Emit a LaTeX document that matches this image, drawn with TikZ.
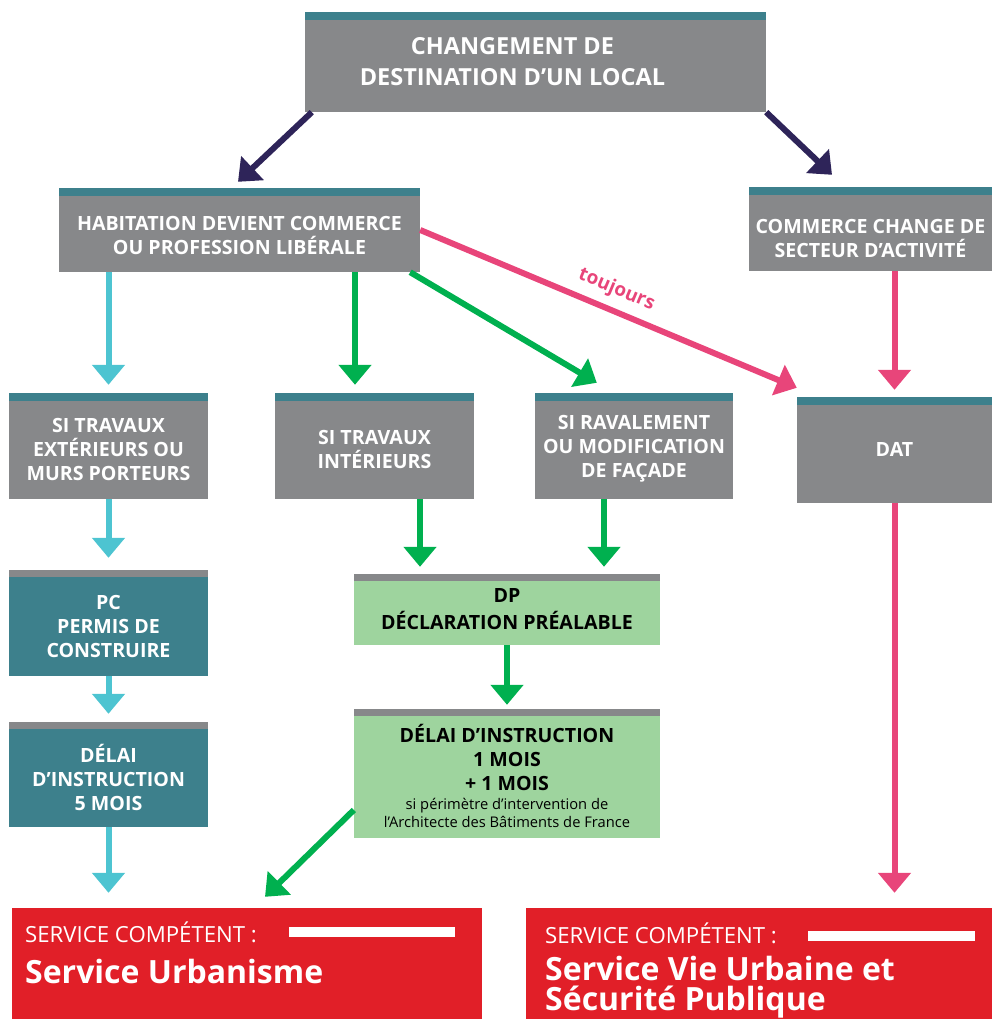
\documentclass[tikz,border=0pt]{standalone}
\usepackage{fontspec}
\setmainfont{Open Sans}
\usetikzlibrary{arrows.meta, positioning}

\definecolor{boxgray}{HTML}{87888A}
\definecolor{barteal}{HTML}{3D808C}
\definecolor{navy}{HTML}{2E2459}
\definecolor{cyanarr}{HTML}{4DC4D1}
\definecolor{greenarr}{HTML}{00B04F}
\definecolor{pinkarr}{HTML}{E8457A}
\definecolor{srvred}{HTML}{E11F28}
\definecolor{dpgreen}{HTML}{9ED49E}

\begin{document}
\begin{tikzpicture}[x=1pt, y=-1pt]
% one unit = one pixel of the sheet, y runs downwards

\tikzstyle{box}      = [rectangle, fill=boxgray, inner sep=0pt] % grey step box
\tikzstyle{boxtext}  = [text=white, align=center, inner sep=0pt, font=\bfseries\fontsize{19.6}{24}\selectfont] % text of a step box
\tikzstyle{tealtop}  = [path picture={\fill[barteal] (path picture bounding box.north west) rectangle ([yshift=-8pt]path picture bounding box.north east);}] % teal band on top
\tikzstyle{graytop}  = [path picture={\fill[boxgray] (path picture bounding box.north west) rectangle ([yshift=-7pt]path picture bounding box.north east);}] % grey band on top
\tikzstyle{arrow}    = [line width=6pt, -{Triangle[width=32pt, length=20pt]}] % define standard arrow
\tikzstyle{srv}      = [rectangle, fill=srvred, inner sep=0pt] % red service box
\tikzstyle{srvhead}  = [text=white, anchor=base west, inner sep=0pt, font=\fontsize{22.2}{24}\selectfont]
\tikzstyle{srvname}  = [text=white, anchor=base west, inner sep=0pt, font=\bfseries\fontsize{32}{32}\selectfont]

\useasboundingbox (0,0) rectangle (992,1019);

% top box
\node(dest)[box, tealtop, minimum width=461pt, minimum height=100pt,
	label={[boxtext, font=\bfseries\fontsize{23.5}{31}\selectfont, xshift=-23pt]center:{CHANGEMENT DE\\DESTINATION D’UN LOCAL}}] at (535.5,62){};

% second row
\node(hab)[box, tealtop, minimum width=361pt, minimum height=84pt,
	label={[boxtext, yshift=-5pt]center:{HABITATION DEVIENT COMMERCE\\OU PROFESSION LIBÉRALE}}] at (239.5,230){};
\node(sect)[box, tealtop, minimum width=243pt, minimum height=84pt,
	label={[boxtext, yshift=-9pt]center:{COMMERCE CHANGE DE\\SECTEUR D’ACTIVITÉ}}] at (870.5,229){};

% kinds of works
\node(ext)[box, tealtop, minimum width=199pt, minimum height=106pt,
	label={[boxtext, yshift=-3pt]center:{SI TRAVAUX\\EXTÉRIEURS OU\\MURS PORTEURS}}] at (108.5,446){};
\node(int)[box, tealtop, minimum width=199pt, minimum height=106pt, right of=ext, node distance=266pt,
	label={[boxtext, yshift=-3pt]center:{SI TRAVAUX\\INTÉRIEURS}}]{};
\node(rav)[box, tealtop, minimum width=198pt, minimum height=106pt, right of=int, node distance=259.5pt,
	label={[boxtext, yshift=-3pt]center:{SI RAVALEMENT\\OU MODIFICATION\\DE FAÇADE}}]{};
\node(dat)[box, tealtop, minimum width=195pt, minimum height=106pt,
	label={[boxtext, yshift=1pt]center:DAT}] at (894.5,450){};

% permis de construire column
\node(pc)[box, graytop, fill=barteal, minimum width=199pt, minimum height=106pt, below of=ext, node distance=177pt,
	label={[boxtext, yshift=-3pt]center:{PC\\PERMIS DE\\CONSTRUIRE}}]{};
\node(d5)[box, graytop, fill=barteal, minimum width=199pt, minimum height=105pt, below of=pc, node distance=151.5pt,
	label={[boxtext, yshift=-2.5pt]center:{DÉLAI\\D’INSTRUCTION\\5 MOIS}}]{};

% declaration prealable column
\node(dp)[box, graytop, fill=dpgreen, minimum width=306pt, minimum height=71pt,
	label={[boxtext, text=black]center:{DP\\[3pt]DÉCLARATION PRÉALABLE}}] at (507,609.5){};
\node(dinst)[box, graytop, fill=dpgreen, minimum width=306pt, minimum height=129pt,
	label={[boxtext, text=black, yshift=-2pt]center:{DÉLAI D’INSTRUCTION\\1 MOIS\\+ 1 MOIS\\[-5pt]{\normalfont\fontsize{14.7}{18}\selectfont si périmètre d’intervention de}\\[-6pt]{\normalfont\fontsize{14.7}{18}\selectfont l’Architecte des Bâtiments de France}}}] at (507,773.5){};

% service boxes
\node(srvU)[srv, minimum width=470pt, minimum height=111pt] at (247,963.5){};
\node(srvV)[srv, minimum width=466pt, minimum height=111pt] at (759,963.5){};
\node(headU)[srvhead] at (25,942){SERVICE COMPÉTENT :};
\node(nameU)[srvname] at (25,983){Service Urbanisme};
\node(headV)[srvhead] at (545,943){SERVICE COMPÉTENT :};
\node(nameV)[srvname] at (545,980){Service Vie Urbaine et};
\node(nameV2)[srvname] at (545,1010){Sécurité Publique};
\fill[white](289,927) rectangle (455,937);
\fill[white](808,931) rectangle (975,941);

% arrows from the top box
\draw[arrow, navy]([xshift=7pt]dest.south west)--([xshift=-1.5pt, yshift=6pt]hab.north);
\draw[arrow, navy](dest.south east)--([xshift=-38.5pt, yshift=12pt]sect.north);

% cyan path
\draw[arrow, cyanarr, shorten >=8pt](hab.south -| ext.north)--(ext.north);
\draw[arrow, cyanarr, shorten >=12pt](ext.south)--(pc.north);
\draw[arrow, cyanarr, shorten >=8pt](pc.south)--(d5.north);
\draw[arrow, cyanarr, shorten >=15pt](d5.south)--(d5.south |- srvU.north);

% green path
\coordinate(g1) at ([xshift=-19.5pt]int.north);
\coordinate(g2) at ([xshift=-87pt]dp.north);
\coordinate(g3) at ([xshift=97pt]dp.north);
\draw[arrow, greenarr, shorten >=8pt](hab.south -| g1)--(g1);
\draw[arrow, greenarr]([xshift=-10pt]hab.south east)--([xshift=62pt, yshift=10pt]rav.north west);
\draw[arrow, greenarr, shorten >=7pt](int.south -| g2)--(g2);
\draw[arrow, greenarr, shorten >=7pt](rav.south -| g3)--(g3);
\draw[arrow, greenarr, shorten >=4pt](dp.south)--(dinst.north);
\draw[arrow, greenarr]([yshift=-36.5pt]dinst.west)--([xshift=18pt, yshift=11pt]srvU.north);

% pink path
\draw[arrow, pinkarr](hab.east)--([yshift=9pt]dat.north west)
	node[pos=0.5, above=5pt, sloped, font=\bfseries\fontsize{19}{22}\selectfont]{toujours};
\draw[arrow, pinkarr, shorten >=7pt](sect.south -| dat.north)--(dat.north);
\draw[arrow, pinkarr, shorten >=15pt](dat.south)--(dat.south |- srvV.north);
\end{tikzpicture}
\end{document}
